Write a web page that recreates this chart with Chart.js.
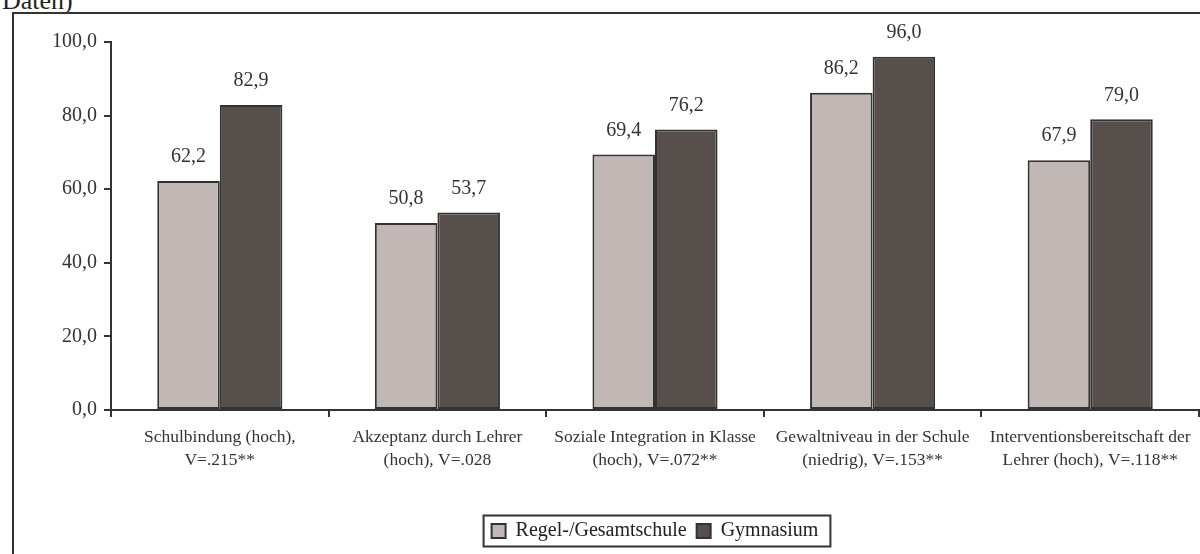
<!DOCTYPE html>
<html>
<head>
  <meta charset="UTF-8">
  <title>Schulklima nach Schulform</title>
  <script src="https://cdn.jsdelivr.net/npm/chart.js@4.4.0/dist/chart.umd.min.js"></script>
  <style>
    html, body { margin: 0; padding: 0; background: #fff; overflow: hidden; }
    .page { position: relative; width: 1200px; height: 554px; }
    /* frame around the chart, cut off at right and bottom like the scan */
    .frame { position: absolute; left: 12px; top: 12px; width: 1300px; height: 700px; border: 2px solid #333; box-sizing: border-box; }
    .caption { position: absolute; left: 2px; top: -14px; font: 26px "Liberation Serif", serif; color: #222; }
    .chart-box { position: absolute; left: 0; top: 0; width: 1200px; height: 554px; }
  </style>
</head>
<body>
  <div class="page">
    <div class="caption">Daten)</div>
    <div class="frame"></div>
    <div class="chart-box">
      <canvas id="chart" width="1200" height="554"></canvas>
    </div>
  </div>

  <script>
    // categories (two lines each) and values in percent
    const categories = [
      ['Schulbindung (hoch),', 'V=.215**'],
      ['Akzeptanz durch Lehrer', '(hoch), V=.028'],
      ['Soziale Integration in Klasse', '(hoch), V=.072**'],
      ['Gewaltniveau in der Schule', '(niedrig), V=.153**'],
      ['Interventionsbereitschaft der', 'Lehrer (hoch), V=.118**']
    ];
    const regelGesamt = [62.2, 50.8, 69.4, 86.2, 67.9];
    const gymnasium = [82.9, 53.7, 76.2, 96.0, 79.0];
    const seriesNames = ['Regel-/Gesamtschule', 'Gymnasium'];

    const fmt = v => v.toFixed(1).replace('.', ',');
    const serif = '"Liberation Serif", "Times New Roman", serif';
    const ink = '#333333';

    // value labels above the bars
    const valueLabels = {
      id: 'valueLabels',
      afterDatasetsDraw(chart) {
        const ctx = chart.ctx;
        ctx.save();
        ctx.font = '20px ' + serif;
        ctx.fillStyle = ink;
        ctx.textAlign = 'center';
        ctx.textBaseline = 'middle';
        chart.data.datasets.forEach((ds, i) => {
          chart.getDatasetMeta(i).data.forEach((bar, j) => {
            ctx.fillText(fmt(ds.data[j]), bar.x, bar.y - 24);
          });
        });
        ctx.restore();
      }
    };

    // border around the legend
    const legendFrame = {
      id: 'legendFrame',
      afterDraw(chart) {
        const lg = chart.legend;
        if (!lg || !lg.legendHitBoxes.length) return;
        const boxes = lg.legendHitBoxes;
        const x0 = boxes[0].left - 8;
        const last = boxes[boxes.length - 1];
        const x1 = last.left + last.width + 12;
        const cy = boxes[0].top + boxes[0].height / 2;
        const ctx = chart.ctx;
        ctx.save();
        ctx.strokeStyle = ink;
        ctx.lineWidth = 2;
        ctx.strokeRect(x0, cy - 15.5, x1 - x0, 31);
        ctx.restore();
      }
    };

    new Chart(document.getElementById('chart'), {
      type: 'bar',
      data: {
        labels: categories,
        datasets: [
          {
            label: seriesNames[0],
            data: regelGesamt,
            backgroundColor: '#c1b8b6',
            borderColor: ink,
            borderWidth: 2,
            borderSkipped: false
          },
          {
            label: seriesNames[1],
            data: gymnasium,
            backgroundColor: '#574f4c',
            borderColor: ink,
            borderWidth: 2,
            borderSkipped: false
          }
        ]
      },
      options: {
        responsive: false,
        animation: false,
        datasets: { bar: { categoryPercentage: 0.575, barPercentage: 1.0 } },
        layout: { padding: { left: 0, right: 1, top: 42, bottom: 3 } },
        scales: {
          x: {
            afterFit(scale) { scale.height = 101; },
            grid: { display: true, drawOnChartArea: false, offset: true, color: ink, lineWidth: 2, tickLength: 7 },
            border: { display: true, color: ink, width: 2 },
            ticks: { color: ink, font: { family: serif, size: 17.5, lineHeight: 1.3 }, padding: 9, maxRotation: 0, autoSkip: false }
          },
          y: {
            min: 0,
            max: 100,
            afterFit(scale) { scale.width = 111; },
            grid: { display: true, drawOnChartArea: false, color: ink, lineWidth: 2, tickLength: 7 },
            border: { display: true, color: ink, width: 2 },
            ticks: { stepSize: 20, color: ink, font: { family: serif, size: 20 }, padding: 7, callback: v => fmt(v) }
          }
        },
        plugins: {
          legend: {
            position: 'bottom',
            fullSize: false,
            labels: {
              color: '#222',
              font: { family: serif, size: 20 },
              boxWidth: 14,
              boxHeight: 14,
              padding: 10,
              generateLabels(chart) {
                return chart.data.datasets.map((ds, i) => ({
                  text: ds.label,
                  fillStyle: ds.backgroundColor,
                  strokeStyle: ink,
                  lineWidth: 2,
                  fontColor: '#222',
                  datasetIndex: i
                }));
              }
            }
          },
          tooltip: { enabled: false }
        }
      },
      plugins: [valueLabels, legendFrame]
    });
  </script>
</body>
</html>
